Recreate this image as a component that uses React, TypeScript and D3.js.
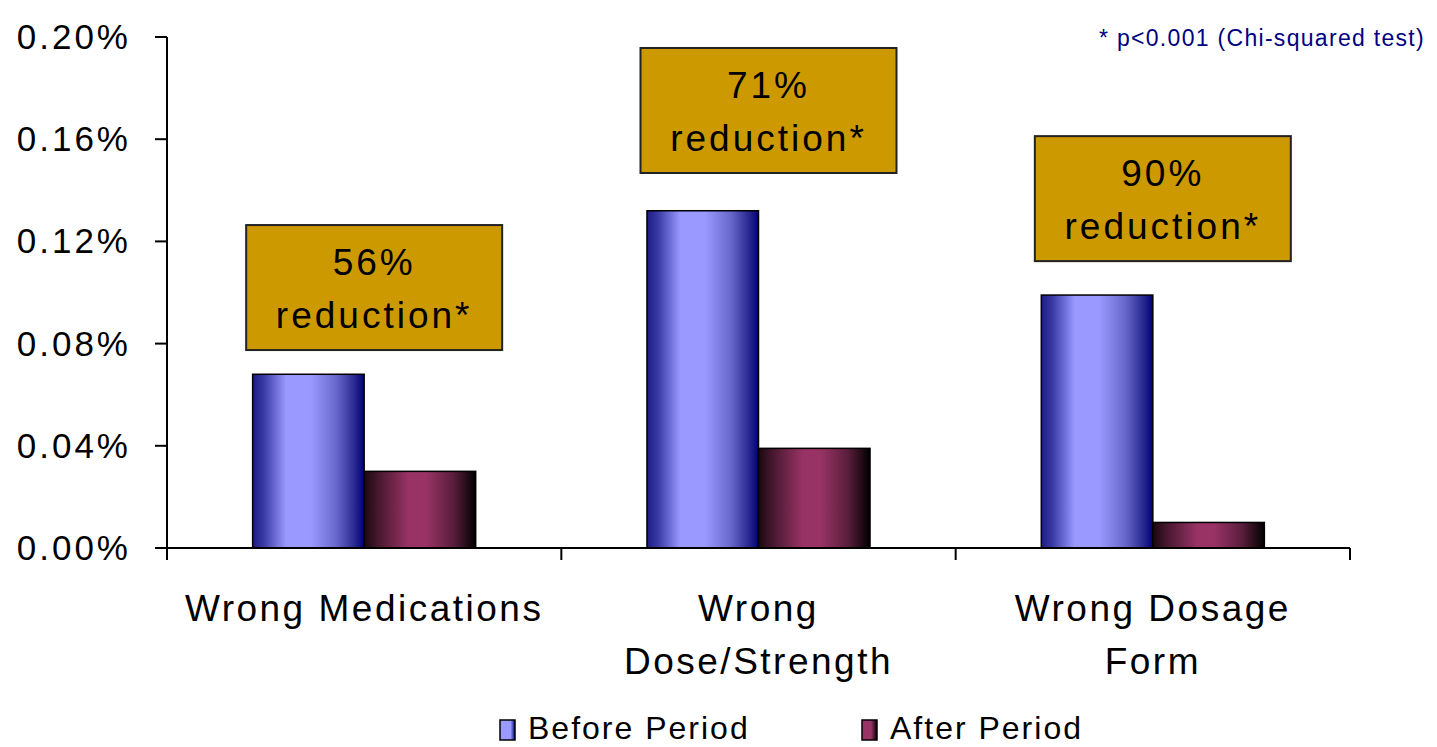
import React from "react";
import * as d3 from "d3";

const categories = ["Wrong Medications", "Wrong Dose/Strength", "Wrong Dosage Form"];
const categoryLines = [["Wrong Medications"], ["Wrong", "Dose/Strength"], ["Wrong Dosage", "Form"]];
const series = ["Before Period", "After Period"];
const beforeValues = [0.068, 0.132, 0.099];
const afterValues = [0.03, 0.039, 0.01];
const reductionLabels = ["56%", "71%", "90%"];
const annotationTopValues = [0.1264, 0.1957, 0.1612];
const yTicks = [0, 0.04, 0.08, 0.12, 0.16, 0.2];
const footnote = "* p<0.001 (Chi-squared test)";

const W = 1437;
const H = 747;
const FONT = "'Liberation Sans', Arial, Helvetica, sans-serif";

export default function App() {
  const left = 167, right = 1350, top = 37, bottom = 548;
  const x0 = d3.scaleBand<string>().domain(categories).range([left, right]).paddingInner(0).paddingOuter(0);
  const x1 = d3.scaleBand<string>().domain(series).range([0, x0.bandwidth()]).paddingInner(0).paddingOuter(0.768);
  const y = d3.scaleLinear().domain([0, 0.2]).range([bottom, top]);
  const fmt = (v: number) => d3.format(".2f")(v) + "%";
  const values = [beforeValues, afterValues];
  const grads = ["gBefore", "gAfter"];
  const boxW = 256, boxH = 125;

  return (
    <svg width={W} height={H} style={{ position: "absolute", left: 0, top: 0, background: "#fff" }} fontFamily={FONT}>
      <defs>
        <linearGradient id="gBefore" x1="0" x2="1" y1="0" y2="0">
          <stop offset="0" stopColor="#1c1c80" />
          <stop offset="0.1" stopColor="#3a3aa6" />
          <stop offset="0.3" stopColor="#9999ff" />
          <stop offset="0.52" stopColor="#9999ff" />
          <stop offset="0.75" stopColor="#6868cc" />
          <stop offset="0.92" stopColor="#26268e" />
          <stop offset="1" stopColor="#000078" />
        </linearGradient>
        <linearGradient id="gAfter" x1="0" x2="1" y1="0" y2="0">
          <stop offset="0" stopColor="#1a0810" />
          <stop offset="0.12" stopColor="#45172d" />
          <stop offset="0.4" stopColor="#993366" />
          <stop offset="0.55" stopColor="#993366" />
          <stop offset="0.8" stopColor="#5a1e3c" />
          <stop offset="1" stopColor="#000000" />
        </linearGradient>
        <linearGradient id="lBefore" x1="0" x2="1">
          <stop offset="0" stopColor="#9999ff" />
          <stop offset="0.7" stopColor="#9999ff" />
          <stop offset="1" stopColor="#000080" />
        </linearGradient>
        <linearGradient id="lAfter" x1="0" x2="1">
          <stop offset="0" stopColor="#993366" />
          <stop offset="0.6" stopColor="#993366" />
          <stop offset="1" stopColor="#000000" />
        </linearGradient>
      </defs>

      {/* y axis */}
      <line x1={left} x2={left} y1={top} y2={bottom} stroke="#000" strokeWidth={2} />
      {yTicks.map((t) => (
        <g key={t}>
          <line x1={left - 12} x2={left} y1={y(t)} y2={y(t)} stroke="#000" strokeWidth={2} />
          <text x={131} y={y(t) + 12} textAnchor="end" fontSize={35} letterSpacing={3} fill="#000">
            {fmt(t)}
          </text>
        </g>
      ))}

      {/* bars */}
      {categories.map((c, i) =>
        series.map((s, j) => {
          const v = values[j][i];
          const bx = (x0(c) as number) + (x1(s) as number);
          return (
            <rect key={c + s} x={bx} y={y(v)} width={x1.bandwidth()} height={bottom - y(v)}
              fill={`url(#${grads[j]})`} stroke="#000" strokeWidth={1.5} />
          );
        })
      )}

      {/* x axis */}
      <line x1={left} x2={right} y1={bottom} y2={bottom} stroke="#000" strokeWidth={2} />
      {[...categories.map((c) => x0(c) as number), right].map((tx, i) => (
        <line key={i} x1={tx} x2={tx} y1={bottom} y2={bottom + 12} stroke="#000" strokeWidth={2} />
      ))}

      {/* category labels */}
      {categories.map((c, i) => {
        const cx = (x0(c) as number) + x0.bandwidth() / 2;
        return (
          <text key={c} x={cx} textAnchor="middle" fontSize={37} letterSpacing={2.5} fill="#000">
            {categoryLines[i].map((ln, k) => (
              <tspan key={k} x={cx} y={621 + k * 53}>{ln}</tspan>
            ))}
          </text>
        );
      })}

      {/* annotation boxes */}
      {categories.map((c, i) => {
        const cx = (x0(c) as number) + x0.bandwidth() / 2 + 10;
        const by = y(annotationTopValues[i]);
        return (
          <g key={"a" + c}>
            <rect x={cx - boxW / 2} y={by} width={boxW} height={boxH} fill="#cc9900" stroke="#222" strokeWidth={2} />
            <text x={cx} y={by + 50} textAnchor="middle" fontSize={37} letterSpacing={3} fill="#000">
              {reductionLabels[i]}
            </text>
            <text x={cx} y={by + 103} textAnchor="middle" fontSize={37} letterSpacing={3} fill="#000">
              reduction*
            </text>
          </g>
        );
      })}

      {/* footnote */}
      <text x={1425} y={46} textAnchor="end" fontSize={23} letterSpacing={1.3} fill="#000080">
        {footnote}
      </text>

      {/* legend */}
      {series.map((s, j) => {
        const lx = [500, 862][j];
        return (
          <g key={s}>
            <rect x={lx} y={720} width={15} height={20} fill={`url(#${["lBefore", "lAfter"][j]})`} stroke="#000" strokeWidth={1.5} />
            <text x={lx + 28} y={739} fontSize={32} letterSpacing={2} fill="#000">{s}</text>
          </g>
        );
      })}
    </svg>
  );
}
